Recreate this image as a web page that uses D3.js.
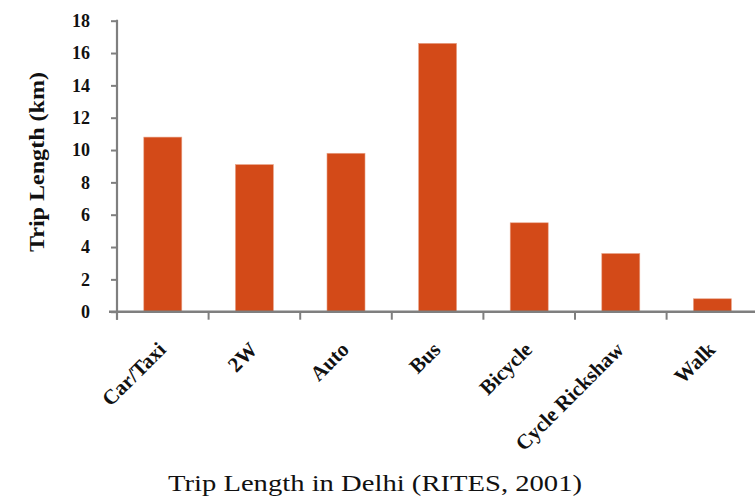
<!DOCTYPE html>
<html>
<head>
<meta charset="utf-8">
<script src="https://cdn.jsdelivr.net/npm/d3@7"></script>
<style>
  html, body { margin: 0; padding: 0; background: #fff; }
  svg { display: block; }
</style>
</head>
<body>
<svg id="chart" width="755" height="501"></svg>
<script>
// Average trip length by travel mode, Delhi
const modes = ["Car/Taxi", "2W", "Auto", "Bus", "Bicycle", "Cycle Rickshaw", "Walk"];
const tripLengthKm = [10.8, 9.1, 9.8, 16.6, 5.5, 3.6, 0.8];
const yTicks = [0, 2, 4, 6, 8, 10, 12, 14, 16, 18];

const svg = d3.select("#chart");
const plotLeft = 117, plotTop = 20.7, plotBottom = 311.7;
const bandW = 91.6;

const x = d3.scaleBand()
  .domain(modes)
  .range([plotLeft, plotLeft + bandW * modes.length])
  .paddingInner(0.585)
  .paddingOuter(0.2925);

const y = d3.scaleLinear().domain([0, 18]).range([plotBottom, plotTop]);

const axisColor = "#7f7f7f";
const serif = "'Liberation Serif', 'DejaVu Serif', serif";

// bars
svg.append("g").selectAll("rect")
  .data(modes)
  .join("rect")
  .attr("x", d => x(d))
  .attr("width", x.bandwidth())
  .attr("y", (d, i) => y(tripLengthKm[i]))
  .attr("height", (d, i) => y(0) - y(tripLengthKm[i]))
  .attr("fill", "#d34a18")
  .attr("stroke", "#e8a58a")
  .attr("stroke-width", 0.6);

// y axis
const yAxis = d3.axisLeft(y).tickValues(yTicks).tickSize(6).tickPadding(21).tickSizeOuter(0);
const gy = svg.append("g").attr("transform", `translate(${plotLeft},0)`).call(yAxis);
gy.select(".domain").remove();
gy.append("line")
  .attr("x1", 0).attr("x2", 0)
  .attr("y1", y(18) - 1).attr("y2", plotBottom + 8)
  .attr("stroke", axisColor).attr("stroke-width", 2.2);
gy.selectAll(".tick line").attr("stroke", axisColor).attr("stroke-width", 2);
gy.selectAll(".tick text")
  .attr("fill", "#111")
  .style("font-family", serif)
  .style("font-weight", "bold")
  .style("font-size", "18px");

// x axis with tick marks at band boundaries
const gx = svg.append("g").attr("transform", `translate(0,${plotBottom})`);
gx.append("line")
  .attr("x1", plotLeft - 8).attr("x2", 755)
  .attr("y1", 0).attr("y2", 0)
  .attr("stroke", axisColor).attr("stroke-width", 2.4);
gx.selectAll("line.bt")
  .data(modes.map((d, i) => plotLeft + i * x.step()))
  .join("line")
  .attr("class", "bt")
  .attr("x1", d => d).attr("x2", d => d)
  .attr("y1", 0).attr("y2", 8)
  .attr("stroke", axisColor).attr("stroke-width", 2);

gx.selectAll("text.lab")
  .data(modes)
  .join("text")
  .attr("class", "lab")
  .attr("transform", d => `translate(${x(d) + x.bandwidth() / 2 - 1},${34}) rotate(-45)`)
  .attr("text-anchor", "end")
  .attr("dy", "0.35em")
  .attr("fill", "#111")
  .style("font-family", serif)
  .style("font-weight", "bold")
  .style("font-size", "21px")
  .text(d => d);

// y axis title
svg.append("text")
  .attr("transform", "translate(36,162) rotate(-90)")
  .attr("text-anchor", "middle")
  .attr("dy", "0.35em")
  .attr("fill", "#111")
  .attr("textLength", 180)
  .attr("lengthAdjust", "spacingAndGlyphs")
  .style("font-family", serif)
  .style("font-weight", "bold")
  .style("font-size", "22px")
  .text("Trip Length (km)");

// caption
svg.append("text")
  .attr("x", 375)
  .attr("y", 491)
  .attr("text-anchor", "middle")
  .attr("fill", "#111")
  .attr("textLength", 414)
  .attr("lengthAdjust", "spacingAndGlyphs")
  .style("font-family", serif)
  .style("font-size", "24px")
  .text("Trip Length in Delhi (RITES, 2001)");
</script>
</body>
</html>
